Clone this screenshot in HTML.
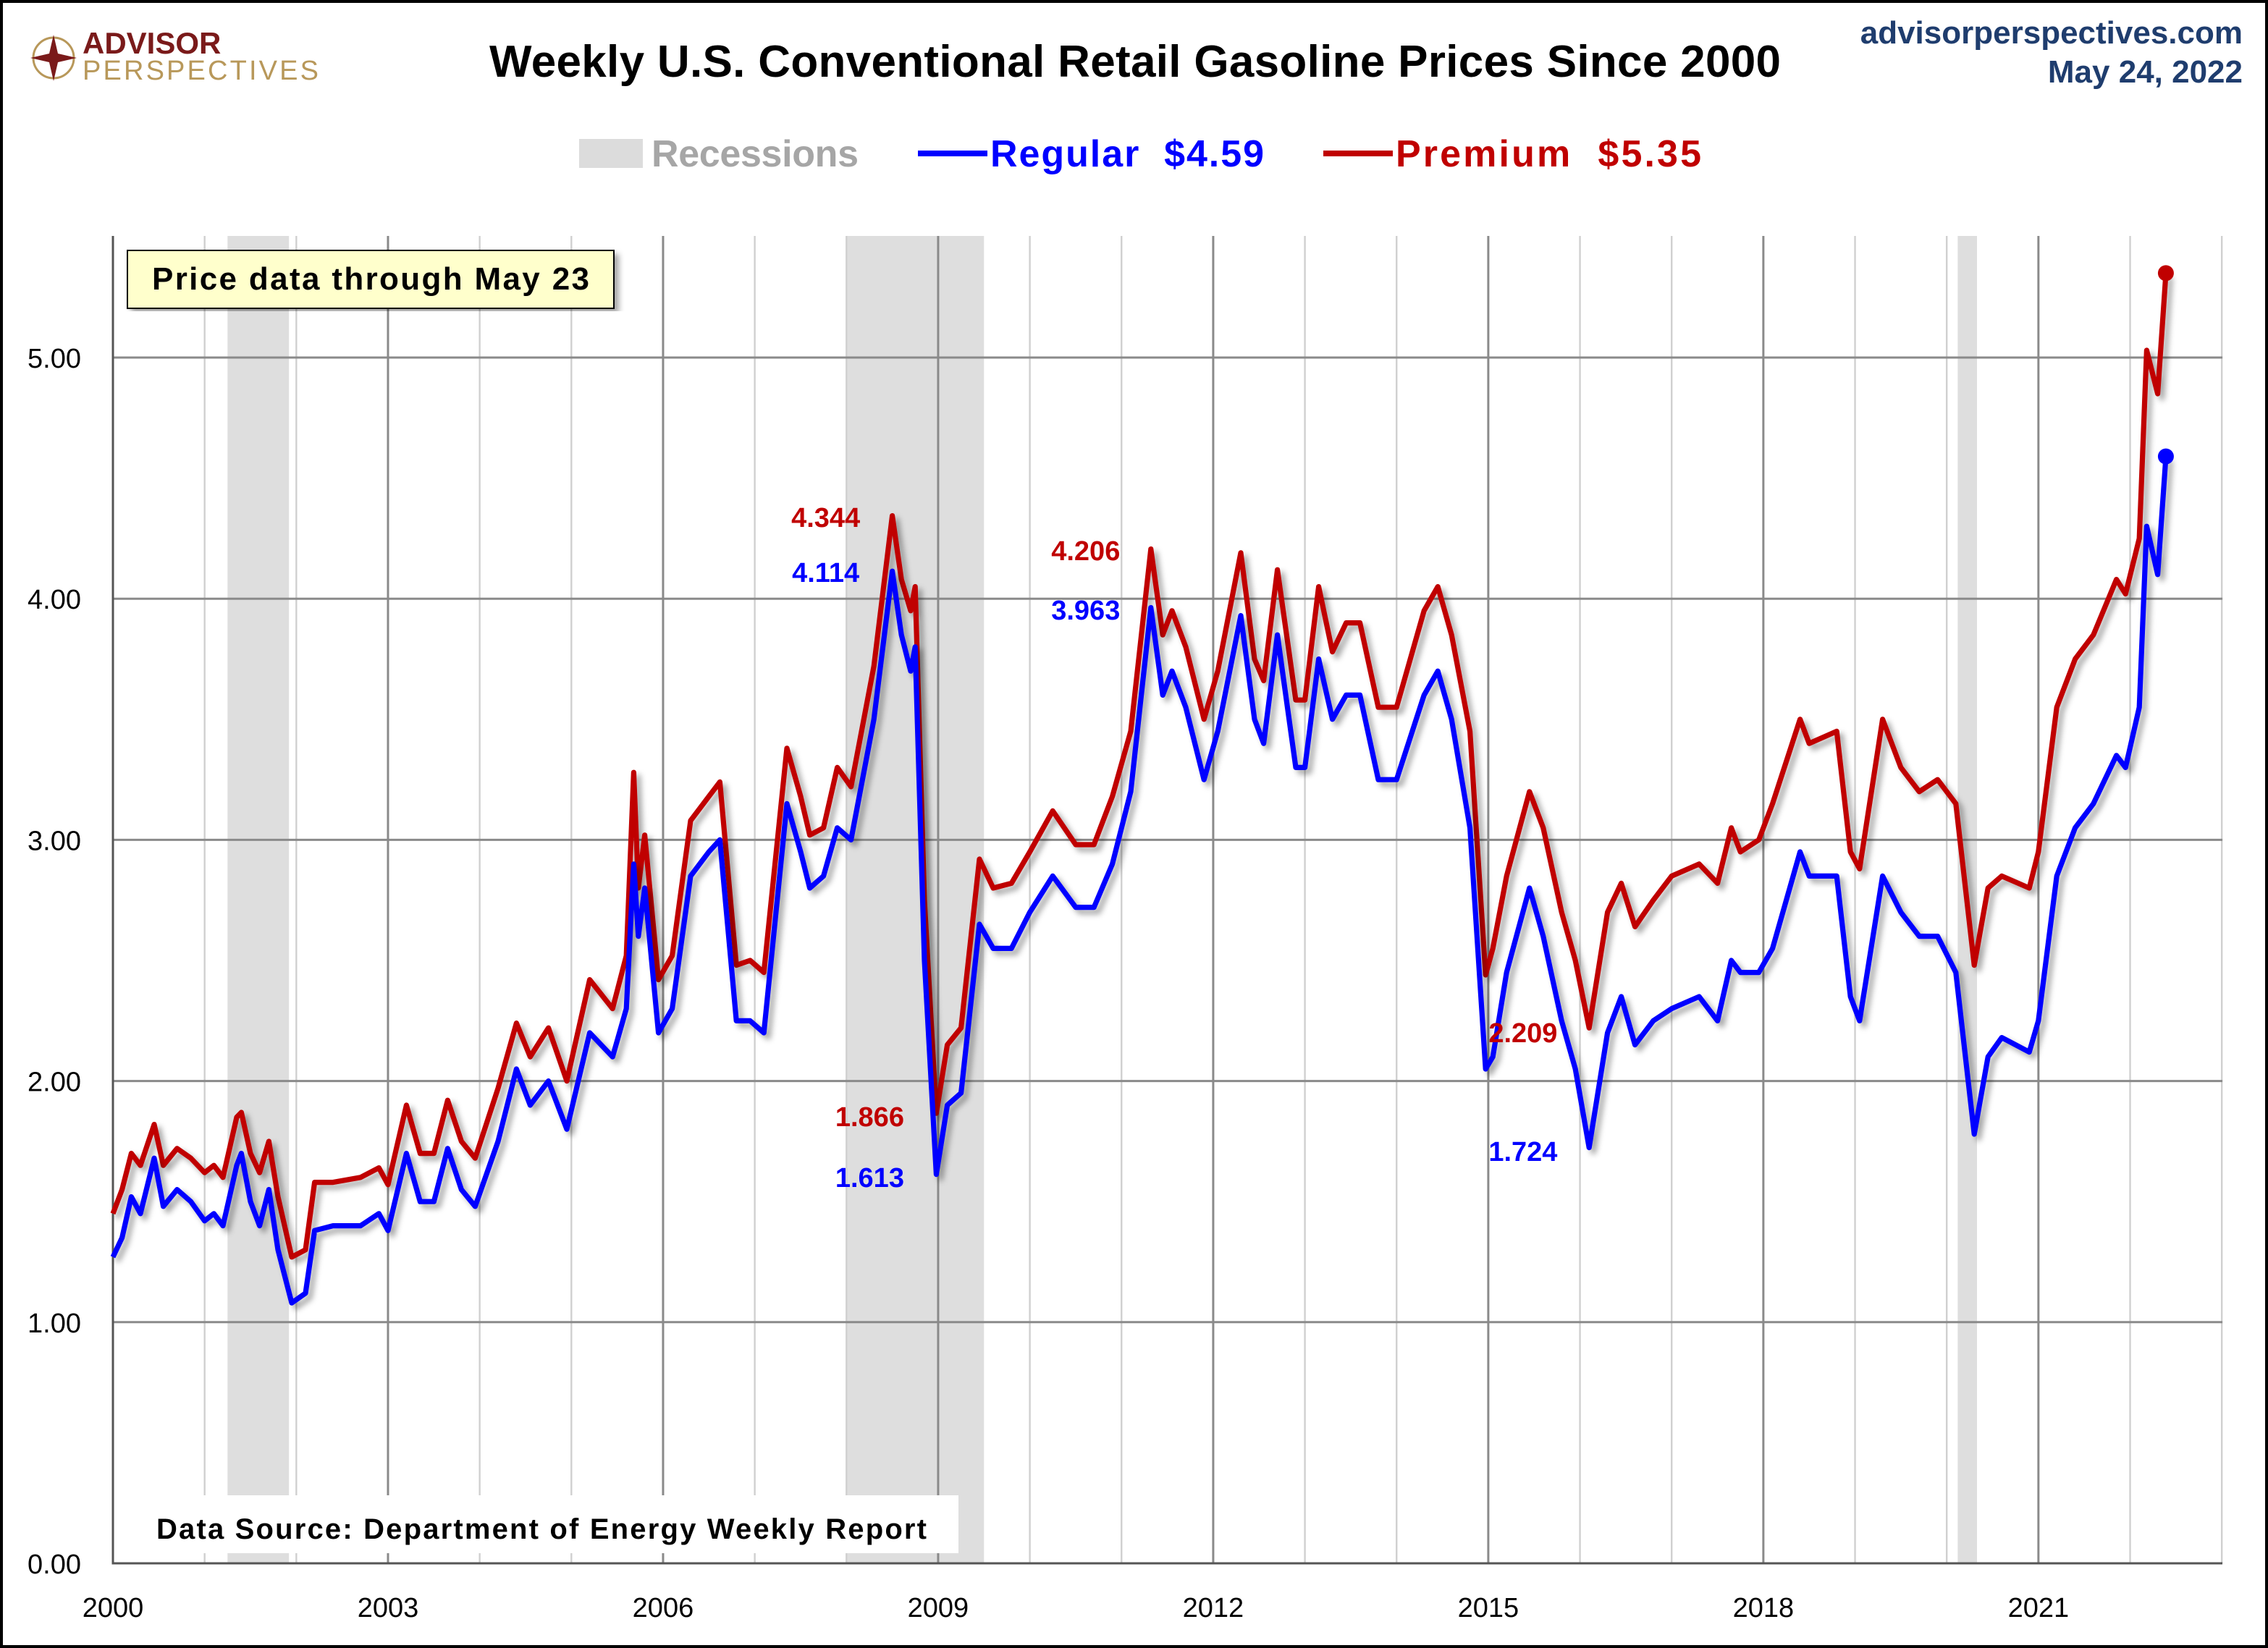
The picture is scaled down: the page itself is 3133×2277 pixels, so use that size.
<!DOCTYPE html>
<html><head><meta charset="utf-8"><style>
html,body{margin:0;padding:0;background:#fff}
svg{display:block}
text{font-family:"Liberation Sans",sans-serif}
</style></head><body>
<svg id="chart" width="3133" height="2277" viewBox="0 0 1566.5 1138.5" xmlns="http://www.w3.org/2000/svg">
<defs>
<filter id="sh" x="-5%" y="-5%" width="110%" height="110%"><feDropShadow dx="3" dy="3" stdDeviation="2" flood-color="#000" flood-opacity="0.35"/></filter>
</defs>
<rect x="1" y="1" width="1564.5" height="1136.5" fill="#fff" stroke="#000" stroke-width="2"/>
<g>
<circle cx="37" cy="40" r="14" fill="none" stroke="#b8985a" stroke-width="1.5"/>
<path d="M37 24 L40 37 L53 40 L40 43 L37 56 L34 43 L21 40 L34 37 Z" fill="#7a1a1a"/>
<text x="57" y="37" font-size="21" font-weight="bold" fill="#7a1a1a">ADVISOR</text>
<text x="57" y="55" font-size="19" fill="#b8985a" textLength="163">PERSPECTIVES</text>
</g>
<text x="784" y="53" font-size="31" font-weight="bold" text-anchor="middle" fill="#000" textLength="892">Weekly U.S. Conventional Retail Gasoline Prices Since 2000</text>
<text x="1549" y="30" font-size="22" font-weight="bold" text-anchor="end" fill="#1f3d6e">advisorperspectives.com</text>
<text x="1549" y="57" font-size="22" font-weight="bold" text-anchor="end" fill="#1f3d6e">May 24, 2022</text>
<g>
<rect x="400" y="96" width="44" height="20" fill="#dcdcdc"/>
<text x="450" y="115" font-size="26" font-weight="bold" fill="#a6a6a6" textLength="143">Recessions</text>
<line x1="634" y1="106" x2="682" y2="106" stroke="#0000ff" stroke-width="4"/>
<text x="684" y="115" font-size="26" font-weight="bold" fill="#0000ff" textLength="189" xml:space="preserve">Regular  $4.59</text>
<line x1="914" y1="106" x2="962" y2="106" stroke="#c00000" stroke-width="4"/>
<text x="964" y="115" font-size="26" font-weight="bold" fill="#c00000" textLength="211" xml:space="preserve">Premium  $5.35</text>
</g>
<g id="plot"></g>
<g filter="url(#sh)">
<rect x="88" y="173" width="336" height="40" fill="#ffffcc" stroke="#000" stroke-width="1"/>
</g>
<text x="256" y="200" font-size="22" font-weight="bold" text-anchor="middle" textLength="302">Price data through May 23</text>
<rect x="96" y="1033" width="566" height="40" fill="#fff"/>
<text x="108" y="1063" font-size="20" font-weight="bold" textLength="532">Data Source: Department of Energy Weekly Report</text>
</svg>
<script>
const years=[2000,2003,2006,2009,2012,2015,2018,2021];
const yTicks=[0,1,2,3,4,5];
const recessions=[[2001.25,2001.92],[2008.0,2009.5],[2020.12,2020.33]];
const dates=[2000.0,2000.1,2000.2,2000.3,2000.45,2000.55,2000.7,2000.85,2001.0,2001.1,2001.2,2001.35,2001.4,2001.5,2001.6,2001.7,2001.8,2001.95,2002.1,2002.2,2002.4,2002.7,2002.9,2003.0,2003.2,2003.35,2003.5,2003.65,2003.8,2003.95,2004.2,2004.4,2004.55,2004.75,2004.95,2005.2,2005.45,2005.6,2005.68,2005.73,2005.8,2005.95,2006.1,2006.3,2006.5,2006.62,2006.8,2006.95,2007.1,2007.35,2007.5,2007.6,2007.75,2007.9,2008.05,2008.3,2008.5,2008.6,2008.7,2008.75,2008.85,2008.98,2009.1,2009.25,2009.45,2009.6,2009.8,2010.0,2010.25,2010.5,2010.7,2010.9,2011.1,2011.32,2011.45,2011.55,2011.7,2011.9,2012.05,2012.3,2012.45,2012.55,2012.7,2012.9,2013.0,2013.15,2013.3,2013.45,2013.6,2013.8,2014.0,2014.3,2014.45,2014.6,2014.8,2014.97,2015.05,2015.2,2015.45,2015.6,2015.8,2015.95,2016.1,2016.3,2016.45,2016.6,2016.8,2017.0,2017.3,2017.5,2017.65,2017.75,2017.95,2018.1,2018.4,2018.5,2018.8,2018.95,2019.05,2019.3,2019.5,2019.7,2019.9,2020.1,2020.3,2020.45,2020.6,2020.9,2021.0,2021.2,2021.4,2021.6,2021.85,2021.95,2022.1,2022.18,2022.3,2022.39];
const regular=[1.27,1.35,1.52,1.45,1.68,1.48,1.55,1.5,1.42,1.45,1.40,1.65,1.70,1.5,1.40,1.55,1.3,1.08,1.12,1.38,1.40,1.40,1.45,1.38,1.70,1.50,1.50,1.72,1.55,1.48,1.75,2.05,1.90,2.0,1.80,2.2,2.1,2.30,2.90,2.6,2.80,2.2,2.30,2.85,2.95,3.0,2.25,2.25,2.2,3.15,2.95,2.8,2.85,3.05,3.0,3.5,4.114,3.85,3.70,3.8,2.5,1.613,1.9,1.95,2.65,2.55,2.55,2.7,2.85,2.72,2.72,2.9,3.2,3.963,3.6,3.7,3.55,3.25,3.45,3.93,3.5,3.4,3.85,3.3,3.3,3.75,3.5,3.6,3.6,3.25,3.25,3.6,3.7,3.5,3.05,2.05,2.1,2.45,2.80,2.6,2.25,2.05,1.724,2.2,2.35,2.15,2.25,2.30,2.35,2.25,2.50,2.45,2.45,2.55,2.95,2.85,2.85,2.35,2.25,2.85,2.70,2.60,2.60,2.45,1.78,2.10,2.18,2.12,2.25,2.85,3.05,3.15,3.35,3.3,3.55,4.30,4.10,4.59];
const premium=[1.45,1.55,1.70,1.65,1.82,1.65,1.72,1.68,1.62,1.65,1.60,1.85,1.87,1.7,1.62,1.75,1.52,1.27,1.30,1.58,1.58,1.60,1.64,1.57,1.90,1.70,1.70,1.92,1.75,1.68,1.97,2.24,2.10,2.22,2.00,2.42,2.30,2.52,3.28,2.8,3.02,2.42,2.52,3.08,3.18,3.24,2.48,2.50,2.45,3.38,3.18,3.02,3.05,3.30,3.22,3.72,4.344,4.08,3.95,4.05,2.75,1.866,2.15,2.22,2.92,2.80,2.82,2.95,3.12,2.98,2.98,3.18,3.45,4.206,3.85,3.95,3.80,3.50,3.70,4.19,3.75,3.66,4.12,3.58,3.58,4.05,3.78,3.90,3.90,3.55,3.55,3.95,4.05,3.85,3.45,2.44,2.55,2.85,3.20,3.05,2.70,2.50,2.22,2.70,2.82,2.64,2.75,2.85,2.90,2.82,3.05,2.95,3.00,3.15,3.50,3.40,3.45,2.95,2.88,3.50,3.30,3.20,3.25,3.15,2.48,2.80,2.85,2.80,2.95,3.55,3.75,3.85,4.08,4.02,4.25,5.03,4.85,5.35];
const labels=[[2008.5,4.344,'#c00000',-46,'4.344'],[2008.5,4.114,'#0000ff',-46,'4.114'],[2011.32,4.206,'#c00000',-45,'4.206'],[2011.32,3.963,'#0000ff',-45,'3.963'],[2008.98,1.866,'#c00000',-46,'1.866'],[2008.98,1.613,'#0000ff',-46,'1.613'],[2015.0,2.209,'#c00000',24,'2.209'],[2015.0,1.724,'#0000ff',24,'1.724']];
const labelYs=[357,395,380,421,771,813,713,795];
const X0=78,X1=1535,Y0=1080,YTOP=163;
const xs=d=>X0+(d-2000)*63.33;
const ys=v=>Y0-v*166.6;
const NS='http://www.w3.org/2000/svg';
const plot=document.getElementById('plot');
function mk(tag,attrs){const e=document.createElementNS(NS,tag);for(const k in attrs)e.setAttribute(k,attrs[k]);plot.appendChild(e);return e;}
recessions.forEach(r=>{const e=mk('rect',{x:xs(r[0]),y:YTOP,width:xs(r[1])-xs(r[0]),height:Y0-YTOP,fill:'#dedede'});

});
for(let yr=2000;yr<=2023;yr++){const major=(yr-2000)%3===0;const e=mk('line',{x1:xs(yr),x2:xs(yr),y1:YTOP,y2:Y0,stroke:major?'#8a8a8a':'#d0d0d0','stroke-width':major?1.5:1.2});

}
yTicks.forEach(v=>{if(v>0){const g=mk('line',{x1:X0,x2:X1,y1:ys(v),y2:ys(v),stroke:'#8a8a8a','stroke-width':1.5});

}
const t=mk('text',{x:56,y:ys(v)+7,'font-size':19,'text-anchor':'end'});t.textContent=v.toFixed(2);

});
years.forEach(yr=>{const t=mk('text',{x:xs(yr),y:1117,'font-size':19,'text-anchor':'middle'});t.textContent=yr;

});
const ax=mk('path',{d:`M${X0} ${YTOP} V${Y0} H${X1}`,fill:'none',stroke:'#555','stroke-width':1.5});


function series(vals,color,name){const d=vals.map((v,i)=>(i?'L':'M')+xs(dates[i]).toFixed(1)+' '+ys(v).toFixed(1)).join(' ');
const p=mk('path',{d:d,fill:'none',stroke:color,'stroke-width':3.6,'stroke-linejoin':'round',filter:'url(#sh)'});


const n=vals.length-1;const c=mk('circle',{cx:xs(dates[n]),cy:ys(vals[n]),r:5.5,fill:color});

}
series(premium,'#c00000','premium');
series(regular,'#0000ff','regular');
labels.forEach((l,i)=>{const t=mk('text',{x:xs(l[0])+l[3],y:labelYs[i]+7,'font-size':19,'font-weight':'bold',fill:l[2],'text-anchor':'middle'});t.textContent=l[4];

});
</script>
</body></html>
